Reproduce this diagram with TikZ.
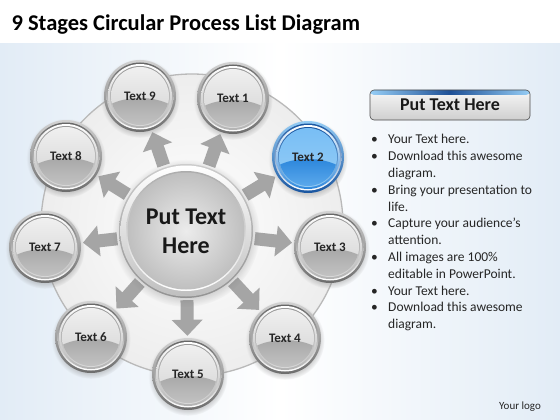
\documentclass[tikz,border=0pt]{standalone}
\usepackage{fontspec}
\setmainfont{Carlito}
\usetikzlibrary{arrows.meta,calc,shadows}
\pgfdeclarelayer{bg}
\pgfsetlayers{bg,main}
\definecolor{bgblue}{RGB}{226,236,246}
\definecolor{arrg}{RGB}{165,165,165}
\definecolor{bla}{RGB}{150,205,245}
\definecolor{blb}{RGB}{25,85,160}
\definecolor{blc}{RGB}{120,190,245}
\definecolor{bld}{RGB}{45,135,220}
\definecolor{hdblue}{RGB}{30,80,150}
\tikzset{
  bub/.style={circle, minimum size=72pt, inner sep=0pt,
    font=\bfseries\fontsize{13}{15}\selectfont, text=black!85,
    circular drop shadow={shadow xshift=0pt, shadow yshift=-2pt, opacity=0.35},
    path picture={
      \coordinate (pc) at (path picture bounding box.center);
      \shade[top color=gray!35, bottom color=gray!85!black] (pc) circle (36pt);
      \shade[top color=gray!80!black, bottom color=white] (pc) circle (33.5pt);
      \shade[top color=white, bottom color=gray!60] (pc) circle (32pt);
      \shade[top color=gray!80, bottom color=gray!30] (pc) circle (30pt);
      \shade[top color=gray!12, bottom color=gray!35] (pc) circle (29pt);
      \begin{scope}
        \clip (pc) circle (29pt);
        \shade[top color=gray!68, bottom color=gray!35] ($(pc)+(0,24)$) ellipse [x radius=42pt, y radius=22pt];
      \end{scope}
    }},
  bubblue/.style={circle, minimum size=72pt, inner sep=0pt,
    font=\bfseries\fontsize{13}{15}\selectfont, text=black!85,
    circular drop shadow={shadow xshift=0pt, shadow yshift=-2pt, opacity=0.35},
    path picture={
      \coordinate (pc) at (path picture bounding box.center);
      \shade[top color=bla, bottom color=blb] (pc) circle (36pt);
      \shade[top color=blb, bottom color=white] (pc) circle (33.5pt);
      \shade[top color=white, bottom color=bld] (pc) circle (32pt);
      \shade[top color=blb, bottom color=bla] (pc) circle (30pt);
      \shade[top color=blc, bottom color=bla] (pc) circle (29pt);
      \begin{scope}
        \clip (pc) circle (29pt);
        \shade[top color=bld, bottom color=blc] ($(pc)+(0,24)$) ellipse [x radius=42pt, y radius=22pt];
      \end{scope}
    }},
  hub/.style={circle, minimum size=134pt, inner sep=0pt, align=center,
    font=\bfseries\fontsize{24}{29}\selectfont, text=black!90,
    circular drop shadow={shadow xshift=0pt, shadow yshift=-2pt, opacity=0.35},
    path picture={
      \coordinate (pc) at (path picture bounding box.center);
      \shade[top color=gray!40, bottom color=gray!85] (pc) circle (67pt);
      \shade[top color=white, bottom color=gray!50] (pc) circle (65.5pt);
      \shade[top color=gray!65, bottom color=white] (pc) circle (60pt);
      \shade[inner color=gray!15, outer color=gray!50] (pc) circle (58.5pt);
    }},
  arr/.style={draw=arrg, line width=13pt, -{Triangle[width=30pt,length=16pt]},
    shorten <=2pt, shorten >=2pt},
  hdr/.style={rectangle, rounded corners=4pt, minimum width=160pt, minimum height=30pt,
    top color=gray!6, bottom color=gray!38, draw=gray!60!black, line width=0.6pt,
    font=\bfseries\fontsize{18}{21}\selectfont, text=black!90,
    path picture={
      \shade[left color=bla, right color=bla, middle color=hdblue]
        (path picture bounding box.north west) rectangle ($(path picture bounding box.north east)+(0,5)$);
    }},
}
\begin{document}
\begin{tikzpicture}[x=1pt,y=-1pt]
\useasboundingbox (0,0) rectangle (560,420);
\begin{pgfonlayer}{bg}
  \fill[white] (0,0) rectangle (560,420);
  \shade[left color=bgblue, right color=bgblue, middle color=white] (0,44) rectangle (560,420);
  \shade[inner color=white, outer color=gray!14] (192,225) circle (151pt);
  \draw[gray!55, line width=1.3pt] (192,225) circle (151pt);
\end{pgfonlayer}

\node[anchor=base west, font=\bfseries\fontsize{22.5}{26}\selectfont] (title) at (8,31) {9 Stages Circular Process List Diagram};

\node[hub] (c) at (186,231) {Put Text\\Here};
\node[bub] (t1) at (233,98) {Text 1};
\node[bubblue] (t2) at (308,157) {Text 2};
\node[bub] (t3) at (330,247) {Text 3};
\node[bub] (t4) at (285,338) {Text 4};
\node[bub] (t5) at (188,374) {Text 5};
\node[bub] (t6) at (91,337) {Text 6};
\node[bub] (t7) at (45,247) {Text 7};
\node[bub] (t8) at (66,156) {Text 8};
\node[bub] (t9) at (140,96) {Text 9};

\begin{pgfonlayer}{bg}
  \foreach \t in {t1,t2,t3,t4,t5,t6,t7,t8,t9}
    \draw[arr] (c) -- (\t);
\end{pgfonlayer}

\node[hdr] (hdr) at (450,105) {Put Text Here};

\node[anchor=north west, inner sep=0pt, font=\fontsize{13.5}{16.8}\selectfont, text=black!85] (list) at (371,132) {%
\begin{tabular}{@{}p{17pt}@{}l@{}}
• & Your Text here.\\
• & Download this awesome\\
  & diagram.\\
• & Bring your presentation to\\
  & life.\\
• & Capture your audience’s\\
  & attention.\\
• & All images are 100\%\\
  & editable in PowerPoint.\\
• & Your Text here.\\
• & Download this awesome\\
  & diagram.
\end{tabular}};

\node[font=\fontsize{11}{13}\selectfont, text=black!85] (logo) at (520,407) {Your logo};
\end{tikzpicture}
\end{document}
